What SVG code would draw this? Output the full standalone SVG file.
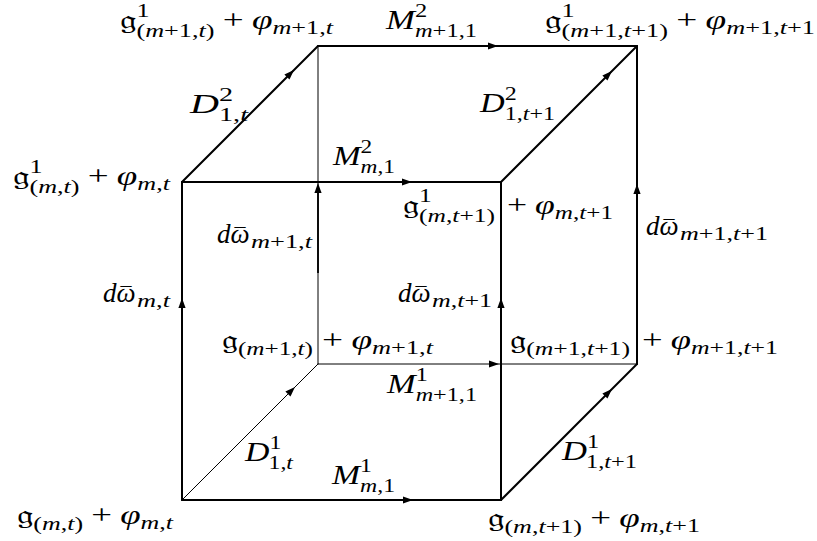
<svg xmlns="http://www.w3.org/2000/svg" width="817" height="541" viewBox="0 0 817 541">
<defs>
<marker id="ar" viewBox="-11 -5 12 10" refX="0" refY="0" markerWidth="12" markerHeight="10" markerUnits="userSpaceOnUse" orient="auto"><path d="M0,0 L-10,-3.6 L-10,3.6 Z" fill="#000"/></marker>
<style>
text { font-family: "Liberation Serif", "Times New Roman", serif; font-size: 27px; fill: #000; }
.i { font-style: italic; }
.s { font-size: 19px; }
.fk { font-family: "DejaVu Serif", "DejaVu Sans", "Noto Sans", serif; font-style: normal; }
.mac { font-size: 22px; font-style: normal; }
.e { fill: none; stroke: #000; stroke-linecap: round; stroke-linejoin: round; marker-mid: url(#ar); }
.k { stroke-width: 2; }
.t { stroke-width: 1; }
.o { fill: none; stroke: #000; stroke-width: 1.8; }
</style>
</defs>
<rect width="817" height="541" fill="#fff"/>
<g id="edges">
<path class="e k" d="M182,500 L182,298 L182,182"/>
<path class="e k" d="M182,182 L412,182 L501,182"/>
<path class="e k" d="M182,500 L413,500 L501,500"/>
<path class="e k" d="M501,500 L501,298 L501,182"/>
<path class="e t" d="M318,364 L318,183 L318,46"/>
<path class="o" d="M318,186 L318,273"/>
<path class="e k" d="M637,364 L637,184 L637,46"/>
<path class="e k" d="M318,46 L498,46 L637,46"/>
<path class="e t" d="M318,364 L499,364 L637,364"/>
<path class="e k" d="M182,182 L294,70 L318,46"/>
<path class="e k" d="M501,182 L612,71 L637,46"/>
<path class="e t" d="M182,500 L295,387 L318,364"/>
<path class="e k" d="M501,500 L612,389 L637,364"/>
</g>
<g id="n_g1_m1t"><text x="120" y="29" textLength="213" lengthAdjust="spacingAndGlyphs"><tspan class="fk">𝔤</tspan><tspan class="s" dy="-12">1</tspan><tspan class="s" dx="-9.5" dy="20">(<tspan class="i">m</tspan>+1,<tspan class="i">t</tspan>)</tspan><tspan dx="6" dy="-8">+</tspan><tspan class="i" dx="6">φ</tspan><tspan class="s" dy="5"><tspan class="i">m</tspan>+1,<tspan class="i">t</tspan></tspan></text></g>
<g id="l_M2_m1"><text x="386" y="29" textLength="91" lengthAdjust="spacingAndGlyphs"><tspan class="i">M</tspan><tspan class="s" dy="-12">2</tspan><tspan class="s" dx="-9.5" dy="20"><tspan class="i">m</tspan>+1,1</tspan></text></g>
<g id="n_g1_m1t1"><text x="545" y="29" textLength="270" lengthAdjust="spacingAndGlyphs"><tspan class="fk">𝔤</tspan><tspan class="s" dy="-12">1</tspan><tspan class="s" dx="-9.5" dy="20">(<tspan class="i">m</tspan>+1,<tspan class="i">t</tspan>+1)</tspan><tspan dx="6" dy="-8">+</tspan><tspan class="i" dx="6">φ</tspan><tspan class="s" dy="5"><tspan class="i">m</tspan>+1,<tspan class="i">t</tspan>+1</tspan></text></g>
<g id="l_D2_t"><text x="190" y="113" textLength="58" lengthAdjust="spacingAndGlyphs"><tspan class="i">D</tspan><tspan class="s" dy="-12">2</tspan><tspan class="s" dx="-9.5" dy="20">1,<tspan class="i">t</tspan></tspan></text></g>
<g id="l_D2_t1"><text x="480" y="112" textLength="75" lengthAdjust="spacingAndGlyphs"><tspan class="i">D</tspan><tspan class="s" dy="-12">2</tspan><tspan class="s" dx="-9.5" dy="20">1,<tspan class="i">t</tspan>+1</tspan></text></g>
<g id="n_g1_mt"><text x="13" y="185" textLength="157" lengthAdjust="spacingAndGlyphs"><tspan class="fk">𝔤</tspan><tspan class="s" dy="-12">1</tspan><tspan class="s" dx="-9.5" dy="20">(<tspan class="i">m</tspan>,<tspan class="i">t</tspan>)</tspan><tspan dx="6" dy="-8">+</tspan><tspan class="i" dx="6">φ</tspan><tspan class="s" dy="5"><tspan class="i">m</tspan>,<tspan class="i">t</tspan></tspan></text></g>
<g id="l_M2_m"><text x="333" y="165" textLength="62" lengthAdjust="spacingAndGlyphs"><tspan class="i">M</tspan><tspan class="s" dy="-12">2</tspan><tspan class="s" dx="-9.5" dy="20"><tspan class="i">m</tspan>,1</tspan></text></g>
<g id="n_g1_mt1"><text x="403" y="214" textLength="92" lengthAdjust="spacingAndGlyphs"><tspan class="fk">𝔤</tspan><tspan class="s" dy="-12">1</tspan><tspan class="s" dx="-9.5" dy="20">(<tspan class="i">m</tspan>,<tspan class="i">t</tspan>+1)</tspan></text><text x="507" y="214" textLength="106" lengthAdjust="spacingAndGlyphs">+<tspan class="i" dx="6">φ</tspan><tspan class="s" dy="5"><tspan class="i">m</tspan>,<tspan class="i">t</tspan>+1</tspan></text></g>
<g id="l_dw_m1t"><text class="i" x="217" y="243">dω<tspan class="mac" dx="-15">¯</tspan></text><text class="s" x="251" y="248" textLength="61" lengthAdjust="spacingAndGlyphs"><tspan class="i">m</tspan>+1,<tspan class="i">t</tspan></text></g>
<g id="l_dw_m1t1"><text class="i" x="646" y="235">dω<tspan class="mac" dx="-15">¯</tspan></text><text class="s" x="680" y="240" textLength="88" lengthAdjust="spacingAndGlyphs"><tspan class="i">m</tspan>+1,<tspan class="i">t</tspan>+1</text></g>
<g id="l_dw_mt"><text class="i" x="103" y="302">dω<tspan class="mac" dx="-15">¯</tspan></text><text class="s" x="137" y="307" textLength="33" lengthAdjust="spacingAndGlyphs"><tspan class="i">m</tspan>,<tspan class="i">t</tspan></text></g>
<g id="l_dw_mt1"><text class="i" x="398" y="302">dω<tspan class="mac" dx="-15">¯</tspan></text><text class="s" x="432" y="307" textLength="60" lengthAdjust="spacingAndGlyphs"><tspan class="i">m</tspan>,<tspan class="i">t</tspan>+1</text></g>
<g id="n_g_m1t"><text x="222" y="349" textLength="91" lengthAdjust="spacingAndGlyphs"><tspan class="fk">𝔤</tspan><tspan class="s" dy="6">(<tspan class="i">m</tspan>+1,<tspan class="i">t</tspan>)</tspan></text><text x="322" y="349" textLength="111" lengthAdjust="spacingAndGlyphs">+<tspan class="i" dx="6">φ</tspan><tspan class="s" dy="5"><tspan class="i">m</tspan>+1,<tspan class="i">t</tspan></tspan></text></g>
<g id="n_g_m1t1"><text x="510" y="349" textLength="120" lengthAdjust="spacingAndGlyphs"><tspan class="fk">𝔤</tspan><tspan class="s" dy="6">(<tspan class="i">m</tspan>+1,<tspan class="i">t</tspan>+1)</tspan></text><text x="642" y="349" textLength="136" lengthAdjust="spacingAndGlyphs">+<tspan class="i" dx="6">φ</tspan><tspan class="s" dy="5"><tspan class="i">m</tspan>+1,<tspan class="i">t</tspan>+1</tspan></text></g>
<g id="l_M1_m1"><text x="387" y="393" textLength="90" lengthAdjust="spacingAndGlyphs"><tspan class="i">M</tspan><tspan class="s" dy="-12">1</tspan><tspan class="s" dx="-9.5" dy="20"><tspan class="i">m</tspan>+1,1</tspan></text></g>
<g id="l_D1_t"><text x="245" y="461" textLength="48" lengthAdjust="spacingAndGlyphs"><tspan class="i">D</tspan><tspan class="s" dy="-12">1</tspan><tspan class="s" dx="-9.5" dy="20">1,<tspan class="i">t</tspan></tspan></text></g>
<g id="l_M1_m"><text x="332" y="484" textLength="63" lengthAdjust="spacingAndGlyphs"><tspan class="i">M</tspan><tspan class="s" dy="-12">1</tspan><tspan class="s" dx="-9.5" dy="20"><tspan class="i">m</tspan>,1</tspan></text></g>
<g id="l_D1_t1"><text x="562" y="460" textLength="75" lengthAdjust="spacingAndGlyphs"><tspan class="i">D</tspan><tspan class="s" dy="-12">1</tspan><tspan class="s" dx="-9.5" dy="20">1,<tspan class="i">t</tspan>+1</tspan></text></g>
<g id="n_g_mt"><text x="17" y="524" textLength="156" lengthAdjust="spacingAndGlyphs"><tspan class="fk">𝔤</tspan><tspan class="s" dy="6">(<tspan class="i">m</tspan>,<tspan class="i">t</tspan>)</tspan><tspan dx="6" dy="-6">+</tspan><tspan class="i" dx="6">φ</tspan><tspan class="s" dy="5"><tspan class="i">m</tspan>,<tspan class="i">t</tspan></tspan></text></g>
<g id="n_g_mt1"><text x="488" y="527" textLength="212" lengthAdjust="spacingAndGlyphs"><tspan class="fk">𝔤</tspan><tspan class="s" dy="6">(<tspan class="i">m</tspan>,<tspan class="i">t</tspan>+1)</tspan><tspan dx="6" dy="-6">+</tspan><tspan class="i" dx="6">φ</tspan><tspan class="s" dy="5"><tspan class="i">m</tspan>,<tspan class="i">t</tspan>+1</tspan></text></g>
</svg>
